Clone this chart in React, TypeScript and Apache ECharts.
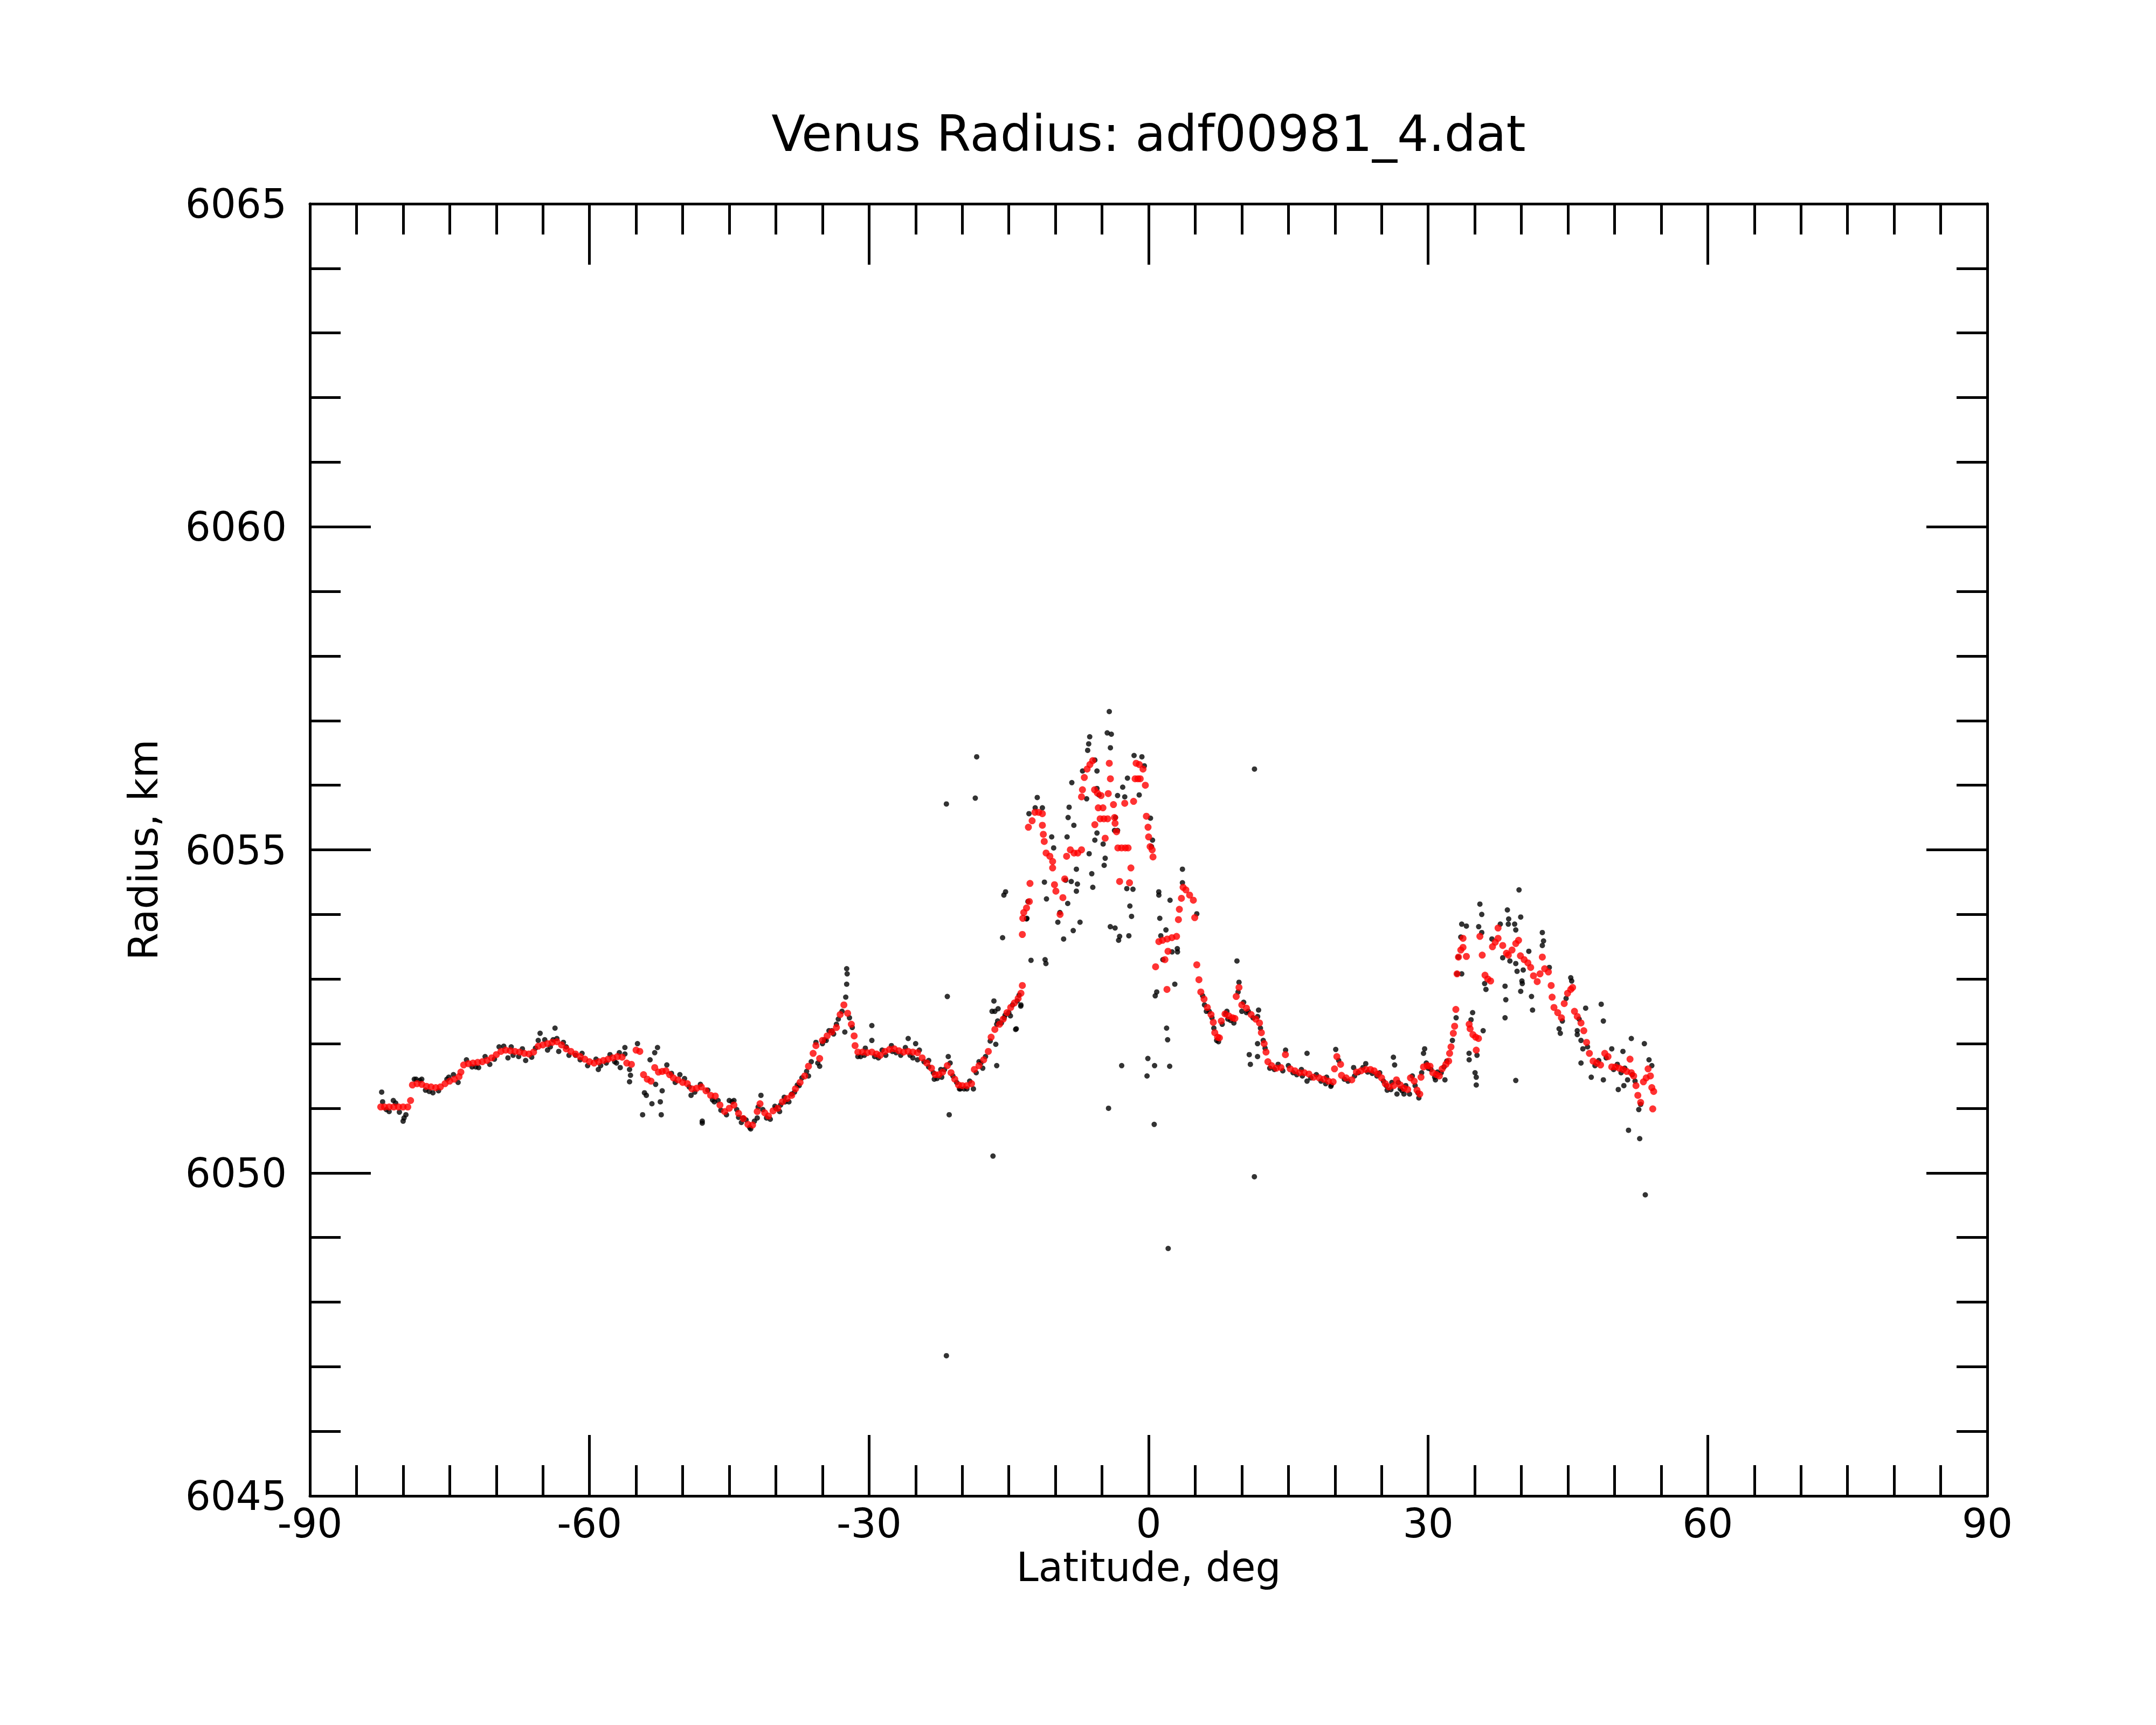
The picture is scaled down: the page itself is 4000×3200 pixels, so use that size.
import React, { useEffect, useRef } from "react";
import * as echarts from "echarts";

const titleText = "Venus Radius: adf00981_4.dat";
const xName = "Latitude, deg";
const yName = "Radius, km";
const latTicks = [-90, -60, -30, 0, 30, 60, 90];
const radiusTicks = [6045, 6050, 6055, 6060, 6065];

// Smoothed radius profile (red), [latitude deg, radius km]
const smoothSouth: [number, number][] = [
  [-82.4, 6051.02], [-82.0, 6051.02], [-81.5, 6051.02], [-81.0, 6051.02], [-80.5, 6051.02], [-80.0, 6051.02], [-79.5, 6051.02],
  [-79.2, 6051.12], [-79.0, 6051.36], [-78.5, 6051.38], [-78.0, 6051.37], [-77.5, 6051.34], [-77.0, 6051.33], [-76.5, 6051.32],
  [-76.0, 6051.33], [-75.5, 6051.38], [-75.0, 6051.42], [-74.5, 6051.45], [-74.0, 6051.49], [-73.8, 6051.56], [-73.5, 6051.67],
  [-73.0, 6051.69], [-72.5, 6051.7], [-72.0, 6051.71], [-71.5, 6051.72], [-71.0, 6051.74], [-70.5, 6051.78], [-70.0, 6051.83],
  [-69.5, 6051.88], [-69.0, 6051.9], [-68.5, 6051.89], [-68.0, 6051.88], [-67.5, 6051.87], [-67.0, 6051.85], [-66.5, 6051.84],
  [-66.0, 6051.87], [-65.5, 6051.96], [-65.0, 6051.98], [-64.5, 6052.0], [-64.0, 6052.02], [-63.5, 6052.03], [-63.0, 6051.98],
  [-62.5, 6051.92], [-62.0, 6051.88], [-61.5, 6051.84], [-61.0, 6051.8], [-60.5, 6051.76], [-60.0, 6051.72], [-59.5, 6051.7],
  [-59.0, 6051.72], [-58.5, 6051.74], [-58.0, 6051.76], [-57.5, 6051.78], [-57.0, 6051.8], [-56.5, 6051.79], [-56.0, 6051.7],
  [-55.5, 6051.68], [-55.0, 6051.9], [-54.6, 6051.88], [-54.2, 6051.52], [-53.8, 6051.45], [-53.4, 6051.42], [-53.0, 6051.63],
  [-52.6, 6051.56], [-52.2, 6051.57], [-51.8, 6051.58], [-51.4, 6051.52], [-51.0, 6051.47], [-50.5, 6051.44], [-50.0, 6051.4],
  [-49.5, 6051.38], [-49.0, 6051.3], [-48.5, 6051.31], [-48.0, 6051.33], [-47.5, 6051.27], [-47.0, 6051.2], [-46.5, 6051.19],
  [-46.0, 6051.05], [-45.5, 6050.95], [-45.0, 6051.0], [-44.5, 6051.05], [-44.0, 6050.92], [-43.5, 6050.84], [-43.0, 6050.75],
  [-42.5, 6050.74], [-42.0, 6050.95], [-41.7, 6051.07], [-41.2, 6050.93], [-40.8, 6050.88], [-40.3, 6050.96], [-39.8, 6051.0],
  [-39.3, 6051.1], [-38.8, 6051.15], [-38.3, 6051.2], [-37.9, 6051.3], [-37.4, 6051.4], [-36.9, 6051.5], [-36.5, 6051.65],
  [-36.0, 6051.85], [-35.7, 6051.97], [-35.3, 6051.77], [-35.0, 6052.05], [-34.5, 6052.12], [-34.0, 6052.18], [-33.5, 6052.25],
  [-33.1, 6052.45], [-32.7, 6052.6], [-32.3, 6052.47], [-31.9, 6052.3], [-31.6, 6052.12], [-31.5, 6051.97], [-31.2, 6051.87],
  [-30.7, 6051.87], [-30.2, 6051.86], [-29.7, 6051.87], [-29.2, 6051.84], [-28.8, 6051.82], [-28.3, 6051.88], [-27.8, 6051.91],
  [-27.3, 6051.92], [-26.8, 6051.89], [-26.3, 6051.87], [-25.8, 6051.88], [-25.3, 6051.87], [-24.8, 6051.86], [-24.3, 6051.78],
  [-23.8, 6051.7], [-23.3, 6051.62], [-22.9, 6051.52], [-22.5, 6051.52], [-22.1, 6051.56], [-21.6, 6051.66], [-21.2, 6051.55],
  [-20.8, 6051.45], [-20.4, 6051.36], [-20.0, 6051.35], [-19.5, 6051.35], [-19.0, 6051.38], [-18.7, 6051.6], [-18.2, 6051.66],
  [-17.7, 6051.75], [-17.2, 6051.88], [-16.9, 6052.1], [-16.5, 6052.22], [-16.0, 6052.3], [-15.6, 6052.38], [-15.2, 6052.48],
  [-14.8, 6052.56], [-14.4, 6052.63], [-14.0, 6052.7], [-13.7, 6052.78], [-13.55, 6052.9],
];

const smoothEquator: [number, number][] = [
  [-13.55, 6053.69], [-13.5, 6053.94], [-13.4, 6054.03], [-13.1, 6054.1], [-12.8, 6054.2], [-12.73, 6054.48], [-12.9, 6055.35],
  [-12.5, 6055.45], [-12.2, 6055.58], [-11.8, 6055.58], [-11.4, 6055.56], [-11.4, 6055.38], [-11.3, 6055.24], [-11.2, 6055.13],
  [-11.0, 6054.95], [-10.6, 6054.9], [-10.3, 6054.82], [-10.3, 6054.72], [-10.1, 6054.46], [-9.95, 6054.36], [-9.5, 6054.0],
  [-9.2, 6054.26], [-9.0, 6054.55], [-8.8, 6054.9], [-8.4, 6055.0], [-8.0, 6054.95], [-7.6, 6054.95], [-7.2, 6055.0],
  [-7.2, 6055.82], [-7.1, 6055.93], [-6.9, 6056.12], [-6.6, 6056.25], [-6.3, 6056.32], [-6.0, 6056.38], [-5.8, 6055.93],
  [-5.5, 6055.88], [-5.1, 6055.84], [-5.4, 6055.65], [-4.9, 6055.65], [-5.77, 6055.39], [-5.2, 6055.48], [-4.8, 6055.48],
  [-4.4, 6055.48], [-4.66, 6055.18], [-4.22, 6056.34], [-4.1, 6056.1], [-4.33, 6055.87], [-3.77, 6055.7], [-3.66, 6055.5],
  [-3.6, 6055.41], [-3.44, 6055.28], [-3.3, 6055.03], [-2.9, 6055.03], [-2.5, 6055.03], [-2.2, 6055.03], [-3.11, 6054.51],
  [-2.05, 6054.49], [-1.9, 6054.72], [-2.56, 6055.72], [-1.61, 6055.75], [-1.45, 6056.1], [-1.15, 6056.1], [-0.9, 6056.1],
  [-1.34, 6056.34], [-1.0, 6056.32], [-0.6, 6056.25], [-0.35, 6056.0], [-0.24, 6055.52], [-0.06, 6055.35], [0.0, 6055.2],
  [0.16, 6055.05], [0.38, 6055.0], [0.47, 6054.89], [0.75, 6053.19], [1.1, 6053.58], [1.5, 6053.6], [1.75, 6053.3],
  [2.0, 6053.62], [2.08, 6053.43], [1.97, 6052.84], [2.5, 6053.64], [3.0, 6053.66], [3.2, 6053.92], [3.3, 6054.08],
  [3.52, 6054.25], [3.7, 6054.42], [4.0, 6054.38], [4.4, 6054.3], [4.8, 6054.22], [4.95, 6053.95], [5.17, 6053.22],
  [5.4, 6052.99], [5.6, 6052.8], [5.95, 6052.69], [6.3, 6052.56], [6.7, 6052.45], [6.94, 6052.33], [7.1, 6052.17],
  [7.4, 6052.1], [7.6, 6052.09], [7.8, 6052.35], [8.2, 6052.46], [8.6, 6052.43], [9.0, 6052.4], [9.26, 6052.39],
  [9.4, 6052.73], [9.7, 6052.87], [10.0, 6052.6], [10.5, 6052.55], [11.0, 6052.45], [11.5, 6052.38], [11.9, 6052.32],
  [12.1, 6052.17], [12.4, 6052.0], [12.6, 6051.87], [12.8, 6051.72], [13.2, 6051.66], [13.7, 6051.62], [14.2, 6051.63],
  [14.68, 6051.83], [15.2, 6051.61], [15.7, 6051.58], [16.2, 6051.55], [16.7, 6051.55], [17.2, 6051.53],
];

const smoothNorth: [number, number][] = [
  [17.7, 6051.48], [18.3, 6051.47], [18.8, 6051.45], [19.3, 6051.42], [19.8, 6051.41], [19.95, 6051.61], [20.2, 6051.8],
  [20.6, 6051.68], [20.7, 6051.51], [21.2, 6051.47], [21.8, 6051.44], [22.3, 6051.56], [22.8, 6051.58], [23.3, 6051.6],
  [23.8, 6051.6], [24.2, 6051.58], [24.6, 6051.53], [25.0, 6051.47], [25.4, 6051.38], [25.8, 6051.33], [26.3, 6051.35],
  [26.6, 6051.44], [27.0, 6051.36], [27.4, 6051.31], [27.8, 6051.29], [28.1, 6051.47], [28.5, 6051.42], [28.8, 6051.28],
  [29.1, 6051.22], [29.23, 6051.48], [29.5, 6051.64], [29.9, 6051.66], [30.2, 6051.65], [30.5, 6051.55], [30.9, 6051.52],
  [31.2, 6051.5], [31.5, 6051.61], [31.9, 6051.68], [32.2, 6051.73], [32.3, 6051.85], [32.45, 6051.95], [32.7, 6052.16],
  [32.84, 6052.27], [32.97, 6052.53], [33.1, 6053.08], [33.25, 6053.34], [33.5, 6053.45], [33.74, 6053.49], [33.74, 6053.63],
  [34.1, 6053.35], [34.4, 6052.3], [34.5, 6052.23], [34.8, 6052.14], [35.1, 6052.1], [35.4, 6052.08], [35.16, 6051.9],
  [35.55, 6053.66], [35.8, 6053.37], [36.1, 6053.06], [36.4, 6053.0], [36.7, 6052.97], [36.9, 6053.5], [37.2, 6053.57],
  [37.5, 6053.63], [37.5, 6053.79], [38.0, 6053.52], [38.4, 6053.4], [38.6, 6053.37], [39.0, 6053.45], [39.4, 6053.55],
  [39.7, 6053.6], [39.9, 6053.36], [40.3, 6053.3], [40.7, 6053.25], [41.0, 6053.18], [41.3, 6053.05], [41.7, 6052.96],
  [42.0, 6053.08], [42.25, 6053.34], [42.5, 6053.16], [42.9, 6053.11], [43.2, 6052.9], [43.3, 6052.72], [43.5, 6052.56],
  [43.9, 6052.48], [44.3, 6052.4], [44.6, 6052.62], [44.96, 6052.78], [45.3, 6052.84], [45.5, 6052.87], [45.7, 6052.5],
  [46.0, 6052.42], [46.4, 6052.32], [46.7, 6052.2], [47.0, 6052.02], [47.3, 6051.85], [47.7, 6051.73], [48.1, 6051.7],
  [48.5, 6051.67], [48.95, 6051.85], [49.3, 6051.8], [49.7, 6051.64], [50.1, 6051.64], [50.5, 6051.62], [50.9, 6051.6],
  [51.3, 6051.57], [51.66, 6051.76], [51.8, 6051.55], [52.05, 6051.5], [52.3, 6051.35], [52.5, 6051.2], [52.8, 6051.09],
  [53.1, 6051.41], [53.4, 6051.47], [53.6, 6051.61], [53.85, 6051.5], [54.0, 6051.32], [54.2, 6051.26], [54.1, 6050.99],
];

// Raw radius measurements (black), [latitude deg, radius km]
const rawSouth: [number, number][] = [
  [-82.3, 6051.25], [-82.2, 6051.1], [-81.05, 6051.12], [-80.4, 6050.94], [-80.0, 6050.8], [-79.9, 6050.85], [-79.7, 6050.9],
  [-78.6, 6051.45], [-78.0, 6051.45], [-76.8, 6051.24], [-75.1, 6051.48], [-74.1, 6051.4], [-71.9, 6051.63], [-70.7, 6051.68],
  [-69.7, 6051.95], [-68.75, 6051.78], [-68.4, 6051.95], [-66.85, 6051.74], [-65.3, 6052.16], [-65.5, 6052.05], [-64.5, 6051.9],
  [-63.7, 6052.24], [-63.9, 6052.06], [-63.5, 6052.08], [-63.3, 6051.88], [-62.5, 6051.95], [-61.5, 6051.82], [-59.05, 6051.6],
  [-57.1, 6051.7], [-56.2, 6051.94], [-56.2, 6051.84], [-56.7, 6051.63], [-55.7, 6051.6], [-55.6, 6051.51], [-55.7, 6051.41],
  [-54.85, 6052.0], [-54.1, 6051.24], [-53.9, 6051.2], [-54.3, 6050.9], [-53.5, 6051.75], [-53.0, 6051.86], [-52.7, 6051.94],
  [-53.3, 6051.07], [-52.9, 6051.37], [-52.4, 6051.1], [-52.3, 6050.9], [-52.2, 6051.27], [-51.7, 6051.67], [-50.3, 6051.52],
  [-49.1, 6051.2], [-47.9, 6050.8], [-47.9, 6050.77], [-48.1, 6051.37], [-47.3, 6051.28], [-46.6, 6051.1], [-45.9, 6050.97],
  [-45.0, 6051.12], [-44.5, 6051.12], [-43.5, 6050.85], [-42.8, 6050.7], [-42.0, 6050.85], [-41.6, 6051.2], [-41.0, 6050.85],
  [-40.0, 6051.0], [-39.0, 6051.1], [-38.3, 6051.22], [-37.5, 6051.35], [-36.5, 6051.5], [-35.7, 6052.02], [-35.3, 6051.65],
  [-35.0, 6052.0], [-34.0, 6052.2], [-33.5, 6052.3], [-32.4, 6053.16], [-32.35, 6053.08], [-32.4, 6052.92], [-32.5, 6052.72],
  [-32.6, 6052.18], [-31.2, 6051.8], [-30.5, 6051.82], [-29.7, 6052.28], [-29.7, 6052.05], [-29.0, 6051.78], [-27.5, 6051.88],
  [-25.8, 6052.08], [-25.0, 6052.0], [-25.3, 6051.78], [-24.8, 6051.75], [-23.0, 6051.45], [-22.2, 6051.48], [-21.6, 6052.73],
  [-21.4, 6050.9], [-21.5, 6051.8], [-21.3, 6051.7], [-20.3, 6051.3], [-19.5, 6051.3], [-18.8, 6051.3], [-18.2, 6051.72],
  [-17.8, 6051.62], [-16.7, 6050.26], [-16.6, 6052.66], [-16.5, 6052.5], [-16.8, 6052.5], [-16.4, 6051.99], [-16.3, 6051.66],
  [-15.5, 6052.4], [-14.2, 6052.23], [-13.7, 6052.6], [-21.7, 6055.71], [-18.45, 6056.44], [-18.6, 6055.8], [-21.7, 6047.17],
  [-16.3, 6052.3], [-16.15, 6052.54], [-14.27, 6052.22], [-13.72, 6052.58], [-14.83, 6052.43],
  [-81.8, 6050.98], [-77.6, 6051.28], [-72.6, 6051.64], [-67.6, 6051.8], [-61.0, 6051.75], [-58.2, 6051.7], [-44.0, 6050.86],
  [-39.6, 6050.95], [-34.6, 6052.05], [-28.2, 6051.82], [-26.6, 6051.82], [-23.6, 6051.64], [-19.8, 6051.3], [-15.0, 6052.48],
];

// Raw measurements hugging the smoothed track (black fringe)
const rawTrackSouth: [number, number][] = [
  [-81.5, 6050.95], [-80.8, 6051.08], [-78.8, 6051.45], [-78.2, 6051.43], [-77.2, 6051.26], [-76.2, 6051.27], [-75.3, 6051.45],
  [-74.6, 6051.52], [-73.2, 6051.75], [-72.2, 6051.64], [-71.2, 6051.8], [-70.2, 6051.76], [-69.2, 6051.96], [-68.2, 6051.82],
  [-67.2, 6051.92], [-66.2, 6051.79], [-65.8, 6051.93], [-64.8, 6052.06], [-64.2, 6051.95], [-62.8, 6052.02], [-62.2, 6051.82],
  [-60.8, 6051.85], [-60.2, 6051.66], [-59.3, 6051.76], [-58.8, 6051.66], [-57.8, 6051.83], [-57.3, 6051.72], [-56.8, 6051.86],
  [-51.2, 6051.54], [-50.8, 6051.4], [-49.8, 6051.46], [-49.3, 6051.33], [-48.7, 6051.25], [-46.8, 6051.13], [-46.2, 6051.12],
  [-45.3, 6050.9], [-44.7, 6051.1], [-44.2, 6050.98], [-43.7, 6050.78], [-43.2, 6050.82], [-42.7, 6050.68], [-42.3, 6050.8],
  [-41.9, 6051.02], [-41.4, 6050.98], [-40.6, 6050.83], [-40.1, 6051.03], [-39.5, 6051.05], [-39.1, 6051.17], [-38.6, 6051.1],
  [-38.0, 6051.25], [-37.7, 6051.36], [-37.2, 6051.47], [-36.7, 6051.57], [-36.2, 6051.72], [-35.5, 6051.7], [-34.8, 6052.06],
  [-34.3, 6052.2], [-33.8, 6052.15], [-33.3, 6052.38], [-32.9, 6052.5], [-32.1, 6052.4], [-31.8, 6052.25], [-30.9, 6051.8],
  [-30.4, 6051.93], [-29.4, 6051.8], [-28.6, 6051.9], [-27.6, 6051.97], [-27.1, 6051.86], [-26.1, 6051.94], [-25.6, 6051.82],
  [-24.6, 6051.9], [-24.1, 6051.72], [-23.6, 6051.74], [-23.1, 6051.55], [-22.7, 6051.46], [-22.3, 6051.6], [-21.9, 6051.6],
  [-21.0, 6051.5], [-20.6, 6051.4], [-20.2, 6051.3], [-19.2, 6051.42], [-18.5, 6051.55], [-18.0, 6051.7], [-17.5, 6051.8],
  [-17.0, 6052.04], [-16.2, 6052.35], [-15.8, 6052.32], [-15.4, 6052.44], [-14.6, 6052.6], [-14.1, 6052.66], [-13.9, 6052.75],
];

const rawTrackNorth: [number, number][] = [
  [5.8, 6052.74], [6.2, 6052.5], [6.8, 6052.4], [7.0, 6052.24], [7.5, 6052.03], [7.9, 6052.3], [8.4, 6052.5], [8.8, 6052.36],
  [9.6, 6052.8], [10.2, 6052.64], [10.7, 6052.5], [11.2, 6052.4], [11.7, 6052.42], [12.0, 6052.24], [12.5, 6051.93],
  [13.0, 6051.62], [13.9, 6051.68], [14.4, 6051.58], [15.0, 6051.66], [15.9, 6051.52], [16.4, 6051.6], [17.4, 6051.47],
  [18.0, 6051.52], [19.1, 6051.48], [19.6, 6051.36], [20.4, 6051.74], [21.4, 6051.42], [22.1, 6051.5], [23.0, 6051.63],
  [24.0, 6051.54], [24.8, 6051.55], [25.2, 6051.42], [25.6, 6051.28], [26.1, 6051.4], [26.8, 6051.4], [27.2, 6051.27],
  [27.6, 6051.35], [28.3, 6051.5], [28.9, 6051.24], [29.3, 6051.55], [29.8, 6051.7], [30.3, 6051.6], [30.7, 6051.48],
  [31.0, 6051.56], [31.4, 6051.55], [31.7, 6051.64], [32.0, 6051.73], [32.6, 6052.05], [33.0, 6052.4], [44.4, 6052.35],
  [44.8, 6052.7], [46.2, 6052.38], [47.1, 6051.95], [47.9, 6051.66], [48.3, 6051.74], [49.1, 6051.78], [49.9, 6051.6],
  [50.3, 6051.68], [50.7, 6051.55], [51.1, 6051.62], [52.2, 6051.42],
];

const rawEquator: [number, number][] = [
  [-15.35, 6054.35], [-15.53, 6054.3], [-15.67, 6053.64], [-12.62, 6053.29], [-11.11, 6053.3], [-11.02, 6053.24],
  [-13.06, 6053.94], [-12.95, 6054.2], [-13.1, 6053.93], [-4.22, 6057.14], [-4.44, 6056.81], [-4.0, 6056.79], [-4.1, 6056.58],
  [-6.32, 6056.75], [-6.43, 6056.64], [-6.54, 6056.54], [-7.09, 6056.22], [-5.77, 6056.39], [-5.54, 6056.22], [-1.56, 6056.46],
  [-0.72, 6056.44], [-0.46, 6056.3], [-11.95, 6055.81], [-12.17, 6055.65], [-11.4, 6055.65], [-12.84, 6055.56], [-8.24, 6056.04],
  [-8.53, 6055.66], [-8.64, 6055.5], [-8.02, 6055.38], [-8.75, 6055.2], [-10.4, 6055.2], [-10.19, 6055.03], [-5.54, 6055.95],
  [-6.65, 6055.79], [-5.32, 6055.85], [-3.33, 6055.84], [-2.78, 6055.97], [-2.56, 6055.82], [-1.01, 6055.85], [-2.27, 6056.11],
  [0.2, 6055.49], [0.42, 6055.15], [0.31, 6055.05], [-5.54, 6055.26], [-5.77, 6055.15], [-4.88, 6055.09], [-4.66, 6054.87],
  [-4.77, 6054.76], [-3.55, 6055.5], [-3.33, 6055.3], [-3.66, 6055.3], [-6.38, 6054.94], [-6.1, 6054.63], [-5.99, 6054.42],
  [-11.18, 6054.5], [-10.96, 6054.24], [-8.9, 6054.53], [-8.3, 6054.51], [-7.64, 6054.47], [-7.75, 6054.36], [-7.75, 6054.7],
  [-8.68, 6054.17], [-7.36, 6053.88], [-8.09, 6053.75], [-9.12, 6053.62], [-9.74, 6053.88], [-9.52, 6054.03], [-2.34, 6054.4],
  [-1.68, 6054.39], [-2.01, 6054.13], [-1.83, 6053.97], [-4.11, 6053.81], [-3.6, 6053.79], [-3.11, 6053.66], [-3.22, 6053.6],
  [-2.12, 6053.67], [1.09, 6054.35], [1.1, 6054.3], [2.3, 6054.22], [1.2, 6053.94], [1.86, 6053.76], [1.31, 6053.67],
  [3.08, 6053.47], [3.1, 6053.42], [2.52, 6053.42], [3.63, 6054.7], [3.63, 6054.49], [5.17, 6054.01], [1.53, 6053.3],
  [2.81, 6052.92], [0.87, 6052.8], [0.71, 6052.74], [1.93, 6052.24], [2.04, 6052.06], [-0.08, 6051.77], [0.64, 6051.66],
  [2.26, 6051.65], [-2.89, 6051.66], [-0.17, 6051.5], [9.48, 6053.28], [9.7, 6052.95], [10.8, 6051.83], [10.92, 6051.68],
  [11.69, 6051.8], [11.69, 6052.0], [17.0, 6051.85], [11.8, 6052.52], [9.15, 6052.32], [8.27, 6052.46], [2.1, 6048.83],
  [11.35, 6049.94], [11.36, 6056.25], [-4.3, 6051.0], [0.6, 6050.75], [6.0, 6052.6], [6.5, 6052.5], [7.3, 6052.05],
  [8.5, 6052.38], [10.0, 6052.5], [10.5, 6052.48], [12.3, 6052.05], [13.5, 6051.6], [14.7, 6051.9], [15.5, 6051.55],
  [16.5, 6051.5], [17.0, 6051.42],
];

const rawNorth: [number, number][] = [
  [18.5, 6051.42], [19.0, 6051.38], [20.08, 6051.91], [19.56, 6051.34], [21.0, 6051.45], [22.0, 6051.63], [22.5, 6051.55],
  [23.3, 6051.69], [23.5, 6051.56], [24.5, 6051.5], [25.5, 6051.35], [26.27, 6051.79], [26.4, 6051.67], [26.0, 6051.29],
  [26.65, 6051.22], [27.0, 6051.3], [27.4, 6051.22], [28.0, 6051.22], [28.6, 6051.35], [29.0, 6051.16], [29.62, 6051.92],
  [29.5, 6051.85], [30.0, 6051.62], [30.78, 6051.44], [31.8, 6051.44], [33.6, 6053.85], [34.1, 6053.82], [33.5, 6053.65],
  [33.23, 6053.34], [33.1, 6053.08], [33.6, 6053.08], [35.55, 6054.16], [35.75, 6054.0], [35.42, 6053.81], [35.75, 6053.72],
  [34.77, 6052.48], [34.6, 6052.37], [34.39, 6051.85], [34.4, 6051.75], [35.24, 6051.82], [35.03, 6051.55], [35.16, 6051.48],
  [35.16, 6051.36], [35.9, 6052.2], [36.06, 6052.93], [36.2, 6052.84], [36.84, 6053.62], [37.74, 6053.85], [38.5, 6054.07],
  [38.64, 6053.93], [38.6, 6053.85], [39.28, 6053.85], [39.4, 6053.76], [39.93, 6053.96], [38.0, 6053.33], [38.77, 6053.28],
  [39.4, 6053.24], [39.54, 6053.12], [40.2, 6053.14], [40.8, 6053.43], [40.06, 6052.97], [40.1, 6052.93], [41.09, 6052.73],
  [39.93, 6052.81], [38.25, 6052.89], [38.33, 6052.68], [38.25, 6052.4], [41.2, 6052.52], [42.25, 6053.72], [42.38, 6053.59],
  [42.25, 6053.52], [43.0, 6053.18], [44.05, 6052.23], [44.18, 6052.16], [45.3, 6053.02], [45.4, 6052.97], [46.0, 6052.2],
  [46.0, 6052.14], [46.9, 6052.55], [46.4, 6052.05], [46.6, 6051.92], [46.4, 6051.7], [47.5, 6051.48], [48.8, 6051.44],
  [48.57, 6052.61], [48.8, 6052.35], [49.7, 6051.92], [51.8, 6052.08], [50.9, 6051.88], [50.4, 6051.29], [51.0, 6051.35],
  [51.4, 6051.44], [53.2, 6052.0], [53.7, 6051.75], [52.6, 6050.98], [52.8, 6051.06], [51.5, 6050.66], [52.7, 6050.53],
  [54.0, 6051.66], [51.9, 6051.52], [53.3, 6049.66], [39.4, 6051.43], [39.75, 6054.38],
];

const smoothed = [...smoothSouth, ...smoothEquator, ...smoothNorth];
const raw = [...rawSouth, ...rawTrackSouth, ...rawEquator, ...rawTrackNorth, ...rawNorth];

const FONT = "DejaVu Sans";

function axisCommon(showLabels: boolean, isX: boolean) {
  const ticks = isX ? latTicks : radiusTicks;
  return {
    type: "value" as const,
    min: ticks[0],
    max: ticks[ticks.length - 1],
    interval: ticks[1] - ticks[0],
    axisLine: { show: true, onZero: false, lineStyle: { color: "#000", width: 5 } },
    axisTick: { show: true, inside: true, length: 113, lineStyle: { color: "#000", width: 5 } },
    minorTick: { show: true, splitNumber: isX ? 6 : 5, length: 57, lineStyle: { color: "#000", width: 5 } },
    splitLine: { show: false },
    minorSplitLine: { show: false },
    axisLabel: {
      show: showLabels,
      color: "#000",
      fontSize: 74,
      fontFamily: FONT,
      margin: isX ? 14 : 43,
      showMinLabel: true,
      showMaxLabel: true,
      formatter: (v: number) => String(v),
    },
  };
}

export default function App() {
  const ref = useRef<HTMLDivElement>(null);
  useEffect(() => {
    if (!ref.current) return;
    const chart = echarts.init(ref.current, null, { renderer: "svg" });
    chart.setOption({
      animation: false,
      backgroundColor: "#fff",
      title: {
        text: titleText,
        left: 2126,
        top: 197,
        textAlign: "center",
        textStyle: { fontFamily: FONT, fontSize: 92, fontWeight: "normal", color: "#000" },
      },
      grid: { left: 575, right: 313, top: 378, bottom: 425, containLabel: false },
      xAxis: [
        {
          ...axisCommon(true, true),
          position: "bottom",
          name: xName,
          nameLocation: "middle",
          nameGap: 95,
          nameTextStyle: { fontFamily: FONT, fontSize: 74, color: "#000" },
        },
        { ...axisCommon(false, true), position: "top" },
      ],
      yAxis: [
        {
          ...axisCommon(true, false),
          position: "left",
          name: yName,
          nameLocation: "middle",
          nameGap: 272,
          nameTextStyle: { fontFamily: FONT, fontSize: 74, color: "#000" },
        },
        { ...axisCommon(false, false), position: "right" },
      ],
      series: [
        {
          type: "scatter",
          name: "raw",
          data: raw,
          symbol: "circle",
          symbolSize: 10,
          itemStyle: { color: "#000" },
          z: 2,
        },
        {
          type: "scatter",
          name: "smoothed",
          data: smoothed,
          symbol: "circle",
          symbolSize: 13,
          itemStyle: { color: "#ff0000" },
          z: 3,
        },
      ],
    });
    return () => chart.dispose();
  }, []);
  return (
    <div
      ref={ref}
      style={{ position: "fixed", left: 0, top: 0, width: 4000, height: 3200, background: "#fff" }}
    />
  );
}
